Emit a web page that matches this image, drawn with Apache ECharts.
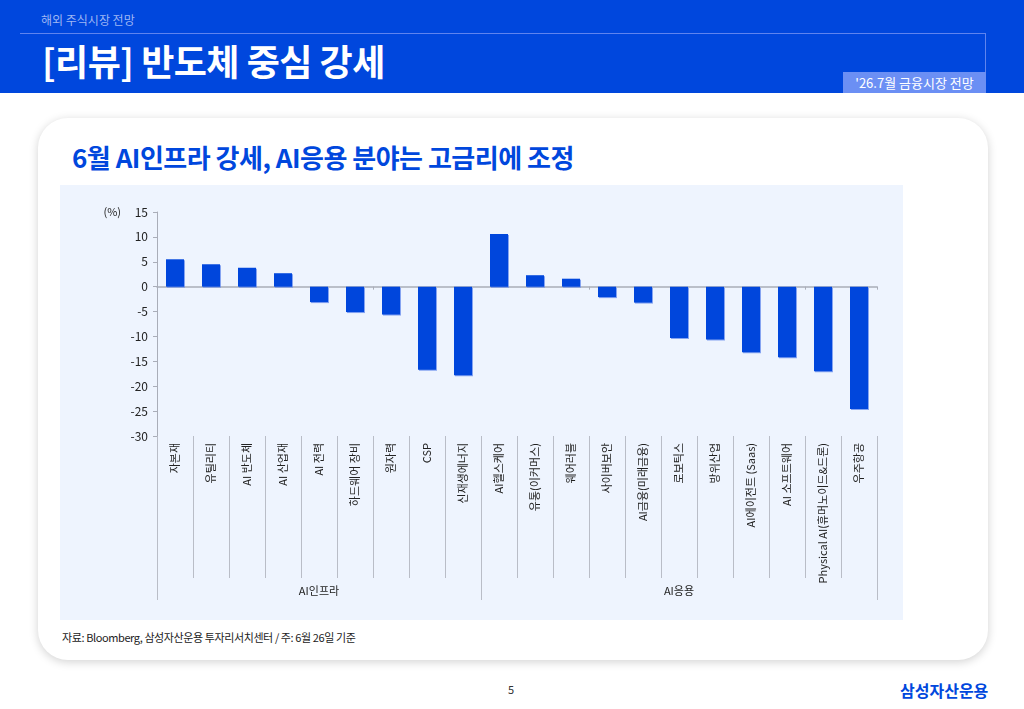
<!DOCTYPE html>
<html>
<head>
<meta charset="utf-8">
<script src="https://cdn.jsdelivr.net/npm/echarts@6/dist/echarts.min.js"></script>
<style>
  * { margin: 0; padding: 0; box-sizing: border-box; }
  body { width: 1024px; height: 709px; background: #fff; position: relative; overflow: hidden;
         font-family: "Noto Sans CJK KR", "Noto Sans", sans-serif; }
  .header { position: absolute; left: 0; top: 0; width: 1024px; height: 93px; background: #0047dd; }
  .sub { position: absolute; left: 41px; top: 11px; font-size: 12px; color: #9fb6f3; }
  .hline { position: absolute; left: 20px; top: 33px; width: 966px; height: 1px; background: #5f84ee; }
  .vline { position: absolute; left: 985px; top: 33px; width: 1px; height: 40px; background: #5f84ee; }
  .title { position: absolute; left: 42px; top: 34px; font-size: 36px; font-weight: bold; color: #fff; letter-spacing: -0.5px; }
  .tag { position: absolute; left: 843px; top: 72px; width: 143px; height: 21px; background: #6b8ff4;
         color: #fff; font-size: 13px; line-height: 21px; text-align: center; }
  .card { position: absolute; left: 38px; top: 118px; width: 950px; height: 542px; background: #fff;
          border-radius: 30px; box-shadow: 0 2px 10px rgba(0,0,0,0.18); }
  .ctitle { position: absolute; left: 72px; top: 138px; font-size: 26px; font-weight: bold; color: #0047dd; letter-spacing: -0.5px; }
  #chart { position: absolute; left: 60px; top: 185px; width: 843px; height: 435px; background: #eef4fe; }
  .src { position: absolute; left: 62px; top: 629px; font-size: 11px; color: #222; letter-spacing: -0.4px; }
  .page { position: absolute; left: 508px; top: 681px; font-size: 11px; color: #333; }
  .logo { position: absolute; left: 900px; top: 678px; font-size: 16px; font-weight: bold; color: #0047dd; }
</style>
</head>
<body>
<div class="header">
  <div class="sub">해외 주식시장 전망</div>
  <div class="hline"></div>
  <div class="vline"></div>
  <div class="title">[리뷰] 반도체 중심 강세</div>
  <div class="tag">'26.7월 금융시장 전망</div>
</div>
<div class="card"></div>
<div class="ctitle">6월 AI인프라 강세, AI응용 분야는 고금리에 조정</div>
<div id="chart"></div>
<div class="src">자료: Bloomberg, 삼성자산운용 투자리서치센터 / 주: 6월 26일 기준</div>
<div class="page">5</div>
<div class="logo">삼성자산운용</div>
<script>
// 섹터 이름
const sectors = [
  '자본재', '유틸리티', 'AI 반도체', 'AI 산업재', 'AI 전력', '하드웨어 장비', '원자력', 'CSP', '신재생에너지',
  'AI헬스케어', '유통(이커머스)', '웨어러블', '사이버보안', 'AI금융(미래금융)', '로보틱스', '방위산업',
  'AI에이전트 (Saas)', 'AI 소프트웨어', 'Physical AI(휴머노이드&드론)', '우주항공'
];
// 6월 수익률 (%)
const returns = [
  5.5, 4.5, 3.8, 2.7, -3.1, -5.1, -5.6, -16.7, -17.8,
  10.6, 2.3, 1.6, -2.1, -3.2, -10.3, -10.6, -13.2, -14.2, -17.0, -24.6
];
// 그룹 (이름, 경계 인덱스)
const groupNames = ['AI인프라', 'AI응용'];
const groupBounds = [0, 9, 20];

const chart = echarts.init(document.getElementById('chart'));
const axisGrey = '#a9adb8';
const sepGrey = '#b9bdc7';
const font = '"Noto Sans CJK KR", sans-serif';

const option = {
  animation: false,
  grid: { left: 97, right: 26, top: 27, bottom: 184, containLabel: false },
  xAxis: [
    {
      // 0 기준선
      type: 'category',
      data: sectors,
      axisLine: { onZero: true, lineStyle: { color: axisGrey, width: 1.5 } },
      axisTick: { show: true, length: 3, lineStyle: { color: axisGrey } },
      axisLabel: { show: false }
    },
    {
      // 섹터 라벨
      type: 'category',
      data: sectors,
      position: 'bottom',
      axisLine: { show: false, onZero: false },
      axisTick: { show: true, length: 142, lineStyle: { color: sepGrey } },
      axisLabel: {
        rotate: 90, interval: 0, margin: 7,
        fontSize: 11, color: '#222', fontFamily: font
      }
    },
    {
      // 그룹 라벨
      type: 'value',
      min: 0, max: 20,
      position: 'bottom',
      axisLine: { show: false, onZero: false },
      splitLine: { show: false },
      axisTick: { show: true, length: 164, customValues: groupBounds, lineStyle: { color: sepGrey } },
      axisLabel: {
        customValues: groupBounds.slice(0, -1).map((b, i) => (b + groupBounds[i + 1]) / 2),
        formatter: v => groupNames[groupBounds.findIndex((b, i) => v > b && v < groupBounds[i + 1])],
        margin: 149, fontSize: 11, color: '#222', fontFamily: font
      }
    }
  ],
  yAxis: {
    type: 'value',
    min: -30, max: 15, interval: 5,
    name: '(%)',
    nameLocation: 'end',
    nameGap: 0,
    nameTextStyle: { align: 'right', verticalAlign: 'middle', padding: [0, 36, 0, 0], fontSize: 11, color: '#222', fontFamily: font },
    axisLine: { show: true, lineStyle: { color: axisGrey } },
    axisTick: { show: true, length: 4, lineStyle: { color: axisGrey } },
    axisLabel: { fontSize: 12, color: '#222', margin: 9, fontFamily: font },
    splitLine: { show: false }
  },
  series: [{
    type: 'bar',
    data: returns,
    barWidth: 18,
    itemStyle: {
      color: '#0046dc',
      shadowColor: 'rgba(90,130,235,0.7)',
      shadowOffsetX: 1, shadowOffsetY: 1, shadowBlur: 0
    }
  }]
};

chart.setOption(option);
</script>
</body>
</html>
